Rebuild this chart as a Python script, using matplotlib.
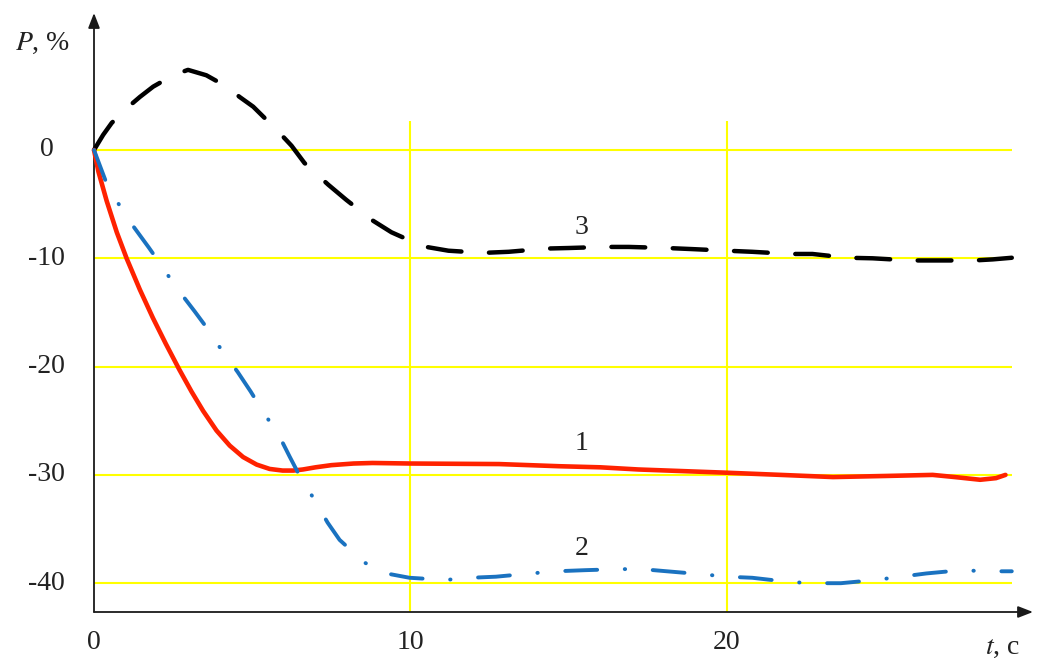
import matplotlib.pyplot as plt

plt.rcParams['font.family'] = ['Liberation Serif', 'DejaVu Serif']
plt.rcParams['mathtext.fontset'] = 'stix'

# curve 3 (black dashed)
t3 = [0, 0.29, 0.56, 1.03, 1.45, 1.87, 2.5, 2.97, 3.55, 4.19, 4.6, 5.03, 5.55, 5.92,
      6.24, 6.65, 7.4, 7.97, 8.8, 9.4, 10.4, 11.2, 12.3, 13.1, 14.3, 15.0, 16.1, 16.9,
      18.1, 18.9, 20, 20.8, 22, 22.7, 23.8, 24.6, 25.8, 26.5, 27.8, 28.4, 29]
p3 = [0, 1.4, 2.5, 3.85, 4.9, 5.85, 6.9, 7.4, 6.9, 5.85, 4.9, 4.0, 2.5, 1.4,
      0.4, -1.2, -3.2, -4.6, -6.5, -7.6, -8.9, -9.3, -9.5, -9.4, -9.1, -9.05, -8.95, -8.95,
      -9.05, -9.15, -9.3, -9.4, -9.6, -9.6, -9.95, -10, -10.2, -10.2, -10.2, -10.1, -9.95]

# curve 1 (red solid)
t1 = [0, 0.14, 0.4, 0.72, 1.03, 1.45, 1.86, 2.27, 2.7, 3.08, 3.45, 3.87, 4.29, 4.71,
      5.14, 5.55, 5.96, 6.3, 6.6, 7.0, 7.5, 8.2, 8.8, 10, 12.8, 14.7, 16.0, 17.2, 20,
      21.7, 23.35, 25, 26.5, 27.2, 28.0, 28.5, 28.8]
p1 = [0, -2.0, -4.7, -7.6, -10, -12.9, -15.5, -17.9, -20.3, -22.3, -24.1, -25.9, -27.3, -28.35,
      -29.05, -29.45, -29.6, -29.6, -29.5, -29.3, -29.1, -28.95, -28.9, -28.95, -29.0, -29.2,
      -29.3, -29.5, -29.8, -30.0, -30.2, -30.1, -30.0, -30.2, -30.45, -30.3, -30.0]

# curve 2 (blue dash-dot)
t2 = [0, 0.4, 0.76, 1.13, 1.73, 2.14, 2.55, 3.18, 3.56, 3.97, 4.54, 4.95, 5.33, 5.87,
      6.18, 6.5, 7.03, 7.38, 7.76, 8.55, 9.24, 9.97, 11.1, 11.9, 12.7, 13.8, 14.6,
      15.5, 16.6, 17.3, 18.1, 19.3, 20, 20.8, 22, 22.8, 23.6, 24.7, 25.5, 26.3,
      27.4, 28.2, 29]
p2 = [0, -3.1, -4.9, -6.6, -9.0, -10.7, -12.5, -14.9, -16.4, -18.2, -20.5, -22.3, -24.1, -26.5,
      -28.3, -30.1, -32.6, -34.4, -36, -38.1, -39.1, -39.5, -39.7, -39.5, -39.4, -39.1, -38.9,
      -38.8, -38.7, -38.7, -38.9, -39.2, -39.4, -39.5, -39.9, -40, -40, -39.7, -39.4, -39.1,
      -38.8, -38.9, -38.9]

yticks = [0, -10, -20, -30, -40]
xticks = [0, 10, 20]
vgrid = [10, 20]
curve_labels = ['1', '2', '3']
label_pos = [(15.4, -27.1), (15.4, -36.8), (15.4, -7.2)]

fig = plt.figure(figsize=(10.37, 6.58), dpi=100)
ax = fig.add_axes([94 / 1037, 46 / 658, (1033 - 94) / 1037, (612 - 13) / 658])
ax.set_xlim(0, 29.67)
ax.set_ylim(-42.66, 12.65)
for s in ax.spines.values():
    s.set_visible(False)
ax.set_xticks([])
ax.set_yticks([])

# grid
yel = '#ffff00'
ax.hlines(yticks, 0, 29, color=yel, lw=1.5, zorder=1)
ax.vlines(vgrid, -42.66, 2.68, color=yel, lw=1.5, zorder=1)

# axes with arrows
arrow = dict(arrowstyle='-|>,head_length=0.9,head_width=0.35',
             color='#1a1a1a', lw=1.3, shrinkA=0, shrinkB=0)
ax.annotate('', xy=(1, 0), xytext=(0, 0), xycoords='axes fraction', arrowprops=arrow)
ax.annotate('', xy=(0, 1), xytext=(0, 0), xycoords='axes fraction', arrowprops=arrow)

ax.plot(t3, p3, color='black', lw=3.2, linestyle=(0, (7.6, 6.2)),
        dash_capstyle='round', dash_joinstyle='round', zorder=3, clip_on=False)
ax.plot(t1, p1, color='#ff2200', lw=3.3, solid_capstyle='round',
        solid_joinstyle='round', zorder=3, clip_on=False)
ax.plot(t2, p2, color='#1a72c0', lw=2.8, linestyle=(0, (8.2, 7.1, 0.1, 7.1)),
        dash_capstyle='round', dash_joinstyle='round', zorder=3, clip_on=False)

fs = 20
for y in yticks:
    ax.text(-1.5, y, str(y), ha='center', va='center', fontsize=fs, color='#222222')
for x in xticks:
    ax.text(x, -45.5, str(x), ha='center', va='center', fontsize=fs, color='#222222',
            clip_on=False)
for lab, (x, y) in zip(curve_labels, label_pos):
    ax.text(x, y, lab, ha='center', va='center', fontsize=fs, color='#222222')

ax.text(-1.64, 9.8, '$P$, %', ha='center', va='center', fontsize=fs, color='#222222')
ax.text(28.7, -45.9, '$t$, c', ha='center', va='center', fontsize=fs, color='#222222',
        clip_on=False)

fig.savefig('out.png', dpi=100)
